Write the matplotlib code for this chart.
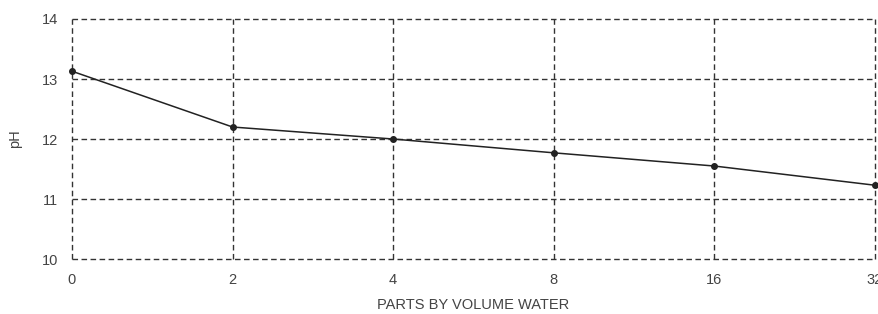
import matplotlib.pyplot as plt
import numpy as np

water_parts = ['0', '2', '4', '8', '16', '32']
ph_values = [13.13, 12.2, 12.0, 11.77, 11.55, 11.23]

plt.rcParams['font.family'] = ['Liberation Sans', 'DejaVu Sans']

fig = plt.figure(figsize=(8.79, 3.14), dpi=100)
ax = fig.add_axes([0.0819, 0.175, 0.9135, 0.7645])

x = np.arange(len(water_parts))
ax.plot(x, ph_values, color='#222222', lw=1.1, marker='o', ms=4, clip_on=False, zorder=3)

ax.set_xlim(0, len(water_parts) - 1)
ax.set_ylim(10, 14)
ax.set_xticks(x)
ax.set_xticklabels(water_parts)
ax.set_yticks([10, 11, 12, 13, 14])

for s in ax.spines.values():
    s.set_visible(False)
ax.grid(True, color='#333333', linestyle=(0, (4, 2.5)), lw=1)
for gl in ax.get_xgridlines() + ax.get_ygridlines():
    gl.set_clip_on(False)
ax.tick_params(length=0, labelsize=10.5, labelcolor='#444444')
ax.tick_params(axis='x', pad=10)
ax.tick_params(axis='y', pad=10)

ax.set_xlabel('PARTS BY VOLUME WATER', fontsize=10.5, color='#444444', labelpad=8)
ax.set_ylabel('pH', fontsize=10.5, color='#444444', labelpad=14)

fig.savefig('out.png', dpi=100)
